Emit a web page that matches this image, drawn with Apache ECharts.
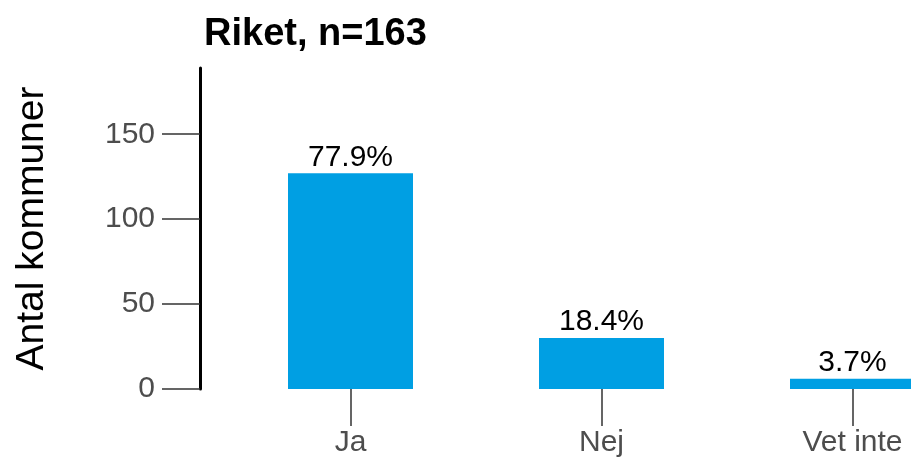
<!DOCTYPE html>
<html>
<head>
<meta charset="utf-8">
<script src="https://cdn.jsdelivr.net/npm/echarts@6/dist/echarts.min.js"></script>
<style>
  html, body { margin: 0; padding: 0; background: #fff; }
  #chart { width: 911px; height: 464px; }
</style>
</head>
<body>
<div id="chart"></div>
<script>
// answers and number of municipalities
const categories = ['Ja', 'Nej', 'Vet inte'];
const counts = [127, 30, 6];
const total = 163;
const yTicks = [0, 50, 100, 150];

const chart = echarts.init(document.getElementById('chart'));
const font = 'Liberation Sans, Arial, sans-serif';

chart.setOption({
  animation: false,
  title: {
    text: 'Riket, n=' + total,
    left: 199,
    top: 11,
    textStyle: { fontFamily: font, fontSize: 38, fontWeight: 'bold', color: '#000' }
  },
  // plot runs past the right edge, the last bar is cut like in the original
  grid: { left: 225, width: 753, top: 68, bottom: 75, containLabel: false, outerBoundsMode: 'none' },
  xAxis: {
    type: 'category',
    data: categories,
    axisLine: { show: false },
    axisTick: { show: true, alignWithLabel: true, length: 37, lineStyle: { color: '#333', width: 1.5 } },
    axisLabel: { margin: 39, fontFamily: font, fontSize: 30, color: '#4d4d4d' }
  },
  yAxis: {
    type: 'value',
    min: 0,
    max: 189,
    interval: 50,
    offset: 25,
    name: 'Antal kommuner',
    nameLocation: 'middle',
    nameGap: 148,
    nameTextStyle: { fontFamily: font, fontSize: 39, color: '#000' },
    axisLine: { show: true, lineStyle: { color: '#000', width: 3 } },
    axisTick: { show: true, length: 38, customValues: yTicks, lineStyle: { color: '#333', width: 1.5 } },
    axisLabel: { margin: 45, customValues: yTicks, fontFamily: font, fontSize: 30, color: '#4d4d4d' },
    splitLine: { show: false }
  },
  series: [{
    type: 'bar',
    data: counts,
    barWidth: 125,
    itemStyle: { color: '#009fe3' },
    label: {
      show: true,
      position: 'top',
      distance: 1,
      fontFamily: font,
      fontSize: 30,
      color: '#000',
      formatter: p => (p.value / total * 100).toFixed(1) + '%'
    }
  }]
});
</script>
</body>
</html>
